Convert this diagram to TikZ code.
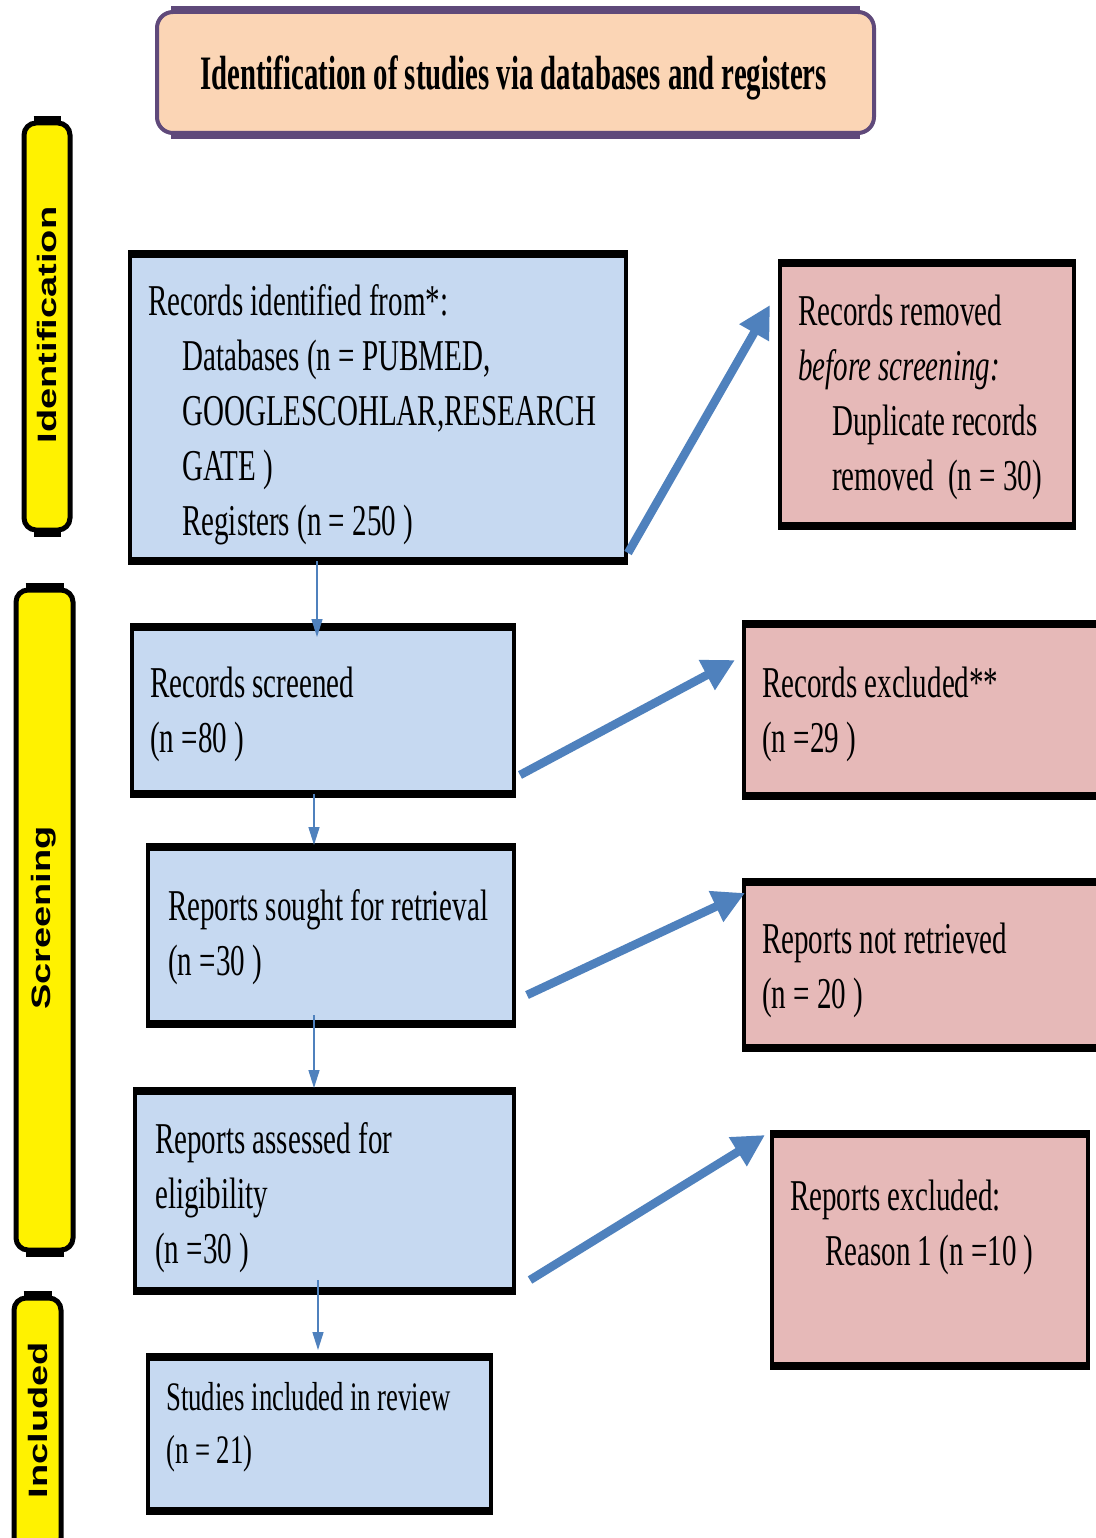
\documentclass[tikz,border=0pt]{standalone}
\usepackage{fontspec}
\usepackage{graphicx}
\setmainfont{Liberation Serif}[FakeStretch=0.66]
\newfontfamily\titlefont{Liberation Serif}[FakeStretch=0.6]
\newfontfamily\sidefont{Liberation Sans}
\usetikzlibrary{arrows.meta,calc}
\definecolor{boxblue}{HTML}{C6D9F1}
\definecolor{boxpink}{HTML}{E6B9B8}
\definecolor{peach}{HTML}{FBD5B5}
\definecolor{purp}{HTML}{5F497A}
\definecolor{arrblue}{HTML}{4F81BD}
\newcommand{\tl}[1]{\begin{tabular}[t]{@{}l@{}}#1\end{tabular}}
\begin{document}
\begin{tikzpicture}[x=1pt,y=-1pt,
 stagebox/.style={draw=black, line width=3.5pt, rectangle, inner sep=0pt, outer sep=0pt},
 bluebox/.style={stagebox, fill=boxblue},
 pinkbox/.style={stagebox, fill=boxpink},
 sidebar/.style={draw=black, fill=yellow, line width=5pt, rounded corners=12pt, inner sep=0pt},
 sidelabel/.style={rotate=90, font=\sidefont\bfseries\fontsize{38}{40}\selectfont, inner sep=0pt},
 boxtext/.style={anchor=base west, inner sep=0pt, font=\fontsize{44}{55}\selectfont},
 thinarrow/.style={draw=arrblue, line width=1.5pt, -{Triangle[length=18pt,width=11pt]}},
 thickarrow/.style={draw=arrblue, line width=8.5pt, -{Triangle[length=32pt,width=32pt]}},
 edgeline/.style={line width=8pt}
]
\useasboundingbox (0,0) rectangle (1095,1538);
\fill[white] (0,0) rectangle (1095,1538);

% title
\node[draw=purp, fill=peach, line width=4pt, rounded corners=16pt, minimum width=717pt, minimum height=121pt, inner sep=0pt] (title) at (515.5,72.5) {};
\draw[draw=purp, edgeline] ($(title.north west)+(16,0)$) -- ($(title.north east)+(-16,0)$);
\draw[draw=purp, edgeline] ($(title.south west)+(16,0)$) -- ($(title.south east)+(-16,0)$);
\node[font=\titlefont\bfseries\fontsize{48}{50}\selectfont, anchor=base, inner sep=0pt] (titletext) at (513.5,90) {Identification of studies via databases and registers};

% side bars
\node[sidebar, minimum width=46pt, minimum height=407pt] (ybar1) at (47,326.5) {};
\node[sidebar, minimum width=57pt, minimum height=660pt] (ybar2) at (44.5,920) {};
\node[sidebar, minimum width=47pt, minimum height=252pt] (ybar3) at (37.5,1424) {};
\foreach \b in {ybar1,ybar2,ybar3}{
 \draw[edgeline, line width=9pt] ($(\b.north west)+(12,0)$) -- ($(\b.north east)+(-12,0)$);
 \draw[edgeline, line width=9pt] ($(\b.south west)+(12,0)$) -- ($(\b.south east)+(-12,0)$);
}
\node[sidelabel] (lab1) at (47,325) {\scalebox{1}[0.7]{Identification}};
\node[sidelabel] (lab2) at (44,918) {\scalebox{1}[0.7]{Screening}};
\node[sidelabel] (lab3) at (38,1420) {\scalebox{1}[0.7]{Included}};

% blue boxes
\node[bluebox, minimum width=496pt, minimum height=307pt] (b1) at (378,407.5) {};
\node[bluebox, minimum width=382pt, minimum height=167pt] (b2) at (323,710.5) {};
\node[bluebox, minimum width=366pt, minimum height=177pt] (b3) at (331,935.5) {};
\node[bluebox, minimum width=379pt, minimum height=200pt] (b4) at (324.5,1191) {};
\node[bluebox, minimum width=343pt, minimum height=154pt] (b5) at (319.5,1434) {};
% pink boxes
\node[pinkbox, minimum width=294pt, minimum height=263pt] (p1) at (927,394.5) {};
\node[pinkbox, minimum width=366pt, minimum height=172pt] (p2) at (927,710) {};
\node[pinkbox, minimum width=366pt, minimum height=166pt] (p3) at (927,965) {};
\node[pinkbox, minimum width=316pt, minimum height=232pt] (p4) at (930,1250) {};
\foreach \b in {b1,b2,b3,b4,b5,p1,p2,p3,p4}{
 \draw[edgeline] ($(\b.north west)+(-1.75,0)$) -- ($(\b.north east)+(1.75,0)$);
 \draw[edgeline] ($(\b.south west)+(-1.75,0)$) -- ($(\b.south east)+(1.75,0)$);
}

% texts
\node[boxtext] (t1) at (148,315) {\tl{Records identified from*:\\
\hspace*{34pt}Databases (n = PUBMED,\\
\hspace*{34pt}GOOGLESCOHLAR,RESEARCH\\
\hspace*{34pt}GATE )\\
\hspace*{34pt}Registers (n = 250 )}};
\node[boxtext] (tp1) at (798,325) {\tl{Records removed\\
\textit{before screening:}\\
\hspace*{34pt}Duplicate records\\
\hspace*{34pt}removed\ \ (n = 30)}};
\node[boxtext] (t2) at (150,697) {\tl{Records screened\\(n =80 )}};
\node[boxtext] (tp2) at (762,697) {\tl{Records excluded**\\(n =29 )}};
\node[boxtext] (t3) at (168,920) {\tl{Reports sought for retrieval\\(n =30 )}};
\node[boxtext] (tp3) at (762,953) {\tl{Reports not retrieved\\(n = 20 )}};
\node[boxtext] (t4) at (155,1153) {\tl{Reports assessed for\\eligibility\\(n =30 )}};
\node[boxtext] (tp4) at (790,1210) {\tl{Reports excluded:\\\hspace*{35pt}Reason 1 (n =10 )}};
\node[boxtext, font=\fontsize{40.5}{53}\selectfont] (t5) at (166,1410) {\tl{Studies included in review\\(n = 21)}};

% thin arrows
\draw[thinarrow] ($(b1.south)+(-61,0)$) -- ($(b2.north)+(-6,10)$);
\draw[thinarrow] ($(b2.south)+(-9,0)$) -- ($(b3.north)+(-17,-2)$);
\draw[thinarrow] ($(b3.south)+(-17,-9)$) -- ($(b4.north)+(-10.5,-3)$);
\draw[thinarrow] ($(b4.south)+(-6.5,-11)$) -- ($(b5.north)+(-1.5,-7)$);

% thick arrows
\draw[thickarrow] ($(b1.south east)+(2,-8)$) -- ($(p1.north west)+(-10,42)$);
\draw[thickarrow] ($(b2.south east)+(6,-19)$) -- ($(p2.north west)+(-9,36)$);
\draw[thickarrow] ($(b3.south east)+(13,-29)$) -- ($(p3.north west)+(1,11)$);
\draw[thickarrow] ($(b4.south east)+(16,-11)$) -- ($(p4.north west)+(-7,1)$);
\end{tikzpicture}
\end{document}
